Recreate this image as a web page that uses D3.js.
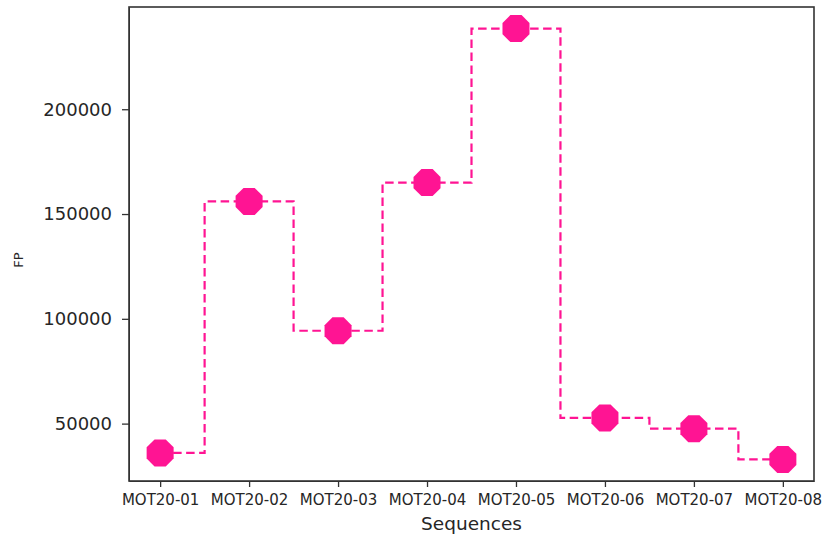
<!DOCTYPE html>
<html>
<head>
<meta charset="utf-8">
<script src="https://cdn.jsdelivr.net/npm/d3@7"></script>
<style>
    body { margin: 0; background: #fff; }
    text { font-family: "DejaVu Sans", sans-serif; fill: #262626; }
    .axis path, .axis line { stroke: #333; }
</style>
</head>
<body>
<div id="chart"></div>
<script>
var sequences = ["MOT20-01", "MOT20-02", "MOT20-03", "MOT20-04", "MOT20-05", "MOT20-06", "MOT20-07", "MOT20-08"];
var fpValues = [36000, 156000, 94300, 165000, 238500, 52700, 47600, 32900];
var yTicks = [50000, 100000, 150000, 200000];

var margin = { top: 7, right: 13, bottom: 54, left: 129 };
var width = 827 - margin.left - margin.right;
var height = 535 - margin.top - margin.bottom;
var pink = "#ff1493";

var svg = d3.select("#chart")
    .append("svg")
    .attr("width", 827)
    .attr("height", 535)
    .append("g")
    .attr("transform", "translate(" + margin.left + "," + margin.top + ")");

var data = sequences.map(function(s, i) { return { seq: s, fp: fpValues[i] }; });

var xScale = d3.scalePoint()
    .domain(sequences)
    .range([0, width])
    .padding(0.35);

// matplotlib style 5% margins
var ext = d3.extent(fpValues);
var pad = (ext[1] - ext[0]) * 0.05;
var yScale = d3.scaleLinear()
    .domain([ext[0] - pad, ext[1] + pad])
    .range([height, 0]);

var xAxis = d3.axisBottom(xScale).tickSize(6).tickPadding(7).tickSizeOuter(0);
var yAxis = d3.axisLeft(yScale).tickValues(yTicks).tickFormat(d3.format("d")).tickSize(7).tickPadding(10).tickSizeOuter(0);

svg.append("g")
    .attr("class", "x-axis axis")
    .attr("transform", "translate(0," + height + ")")
    .call(xAxis)
    .selectAll("text")
    .style("font-size", "15px");

svg.append("g")
    .attr("class", "y-axis axis")
    .call(yAxis)
    .selectAll("text")
    .style("font-size", "18px");

svg.selectAll(".axis line").attr("stroke-width", 1.3);

// frame
svg.append("rect")
    .attr("x", 0)
    .attr("y", 0)
    .attr("width", width)
    .attr("height", height)
    .attr("fill", "none")
    .attr("stroke", "#333")
    .attr("stroke-width", 1.6);

var line = d3.line()
    .x(function(d) { return xScale(d.seq); })
    .y(function(d) { return yScale(d.fp); })
    .curve(d3.curveStep);

svg.append("path")
    .datum(data)
    .attr("d", line)
    .attr("fill", "none")
    .attr("stroke", pink)
    .attr("stroke-width", 2.2)
    .attr("stroke-dasharray", "8.5,4.5");

// octagon markers
var octR = 13.5 / Math.cos(Math.PI / 8);
var octPts = d3.range(8).map(function(k) {
    var a = Math.PI / 8 + k * Math.PI / 4;
    return [octR * Math.cos(a), octR * Math.sin(a)];
});
var octPath = d3.line()(octPts) + "Z";

svg.selectAll(".marker")
    .data(data)
    .enter()
    .append("path")
    .attr("class", "marker")
    .attr("d", octPath)
    .attr("transform", function(d) { return "translate(" + xScale(d.seq) + "," + yScale(d.fp) + ")"; })
    .attr("fill", pink);

svg.append("text")
    .attr("x", width / 2)
    .attr("y", height + 49)
    .attr("text-anchor", "middle")
    .style("font-size", "18.5px")
    .text("Sequences");

svg.append("text")
    .attr("transform", "translate(" + (23 - margin.left) + "," + (253) + ") rotate(-90)")
    .attr("text-anchor", "middle")
    .style("font-size", "13px")
    .text("FP");
</script>
</body>
</html>
